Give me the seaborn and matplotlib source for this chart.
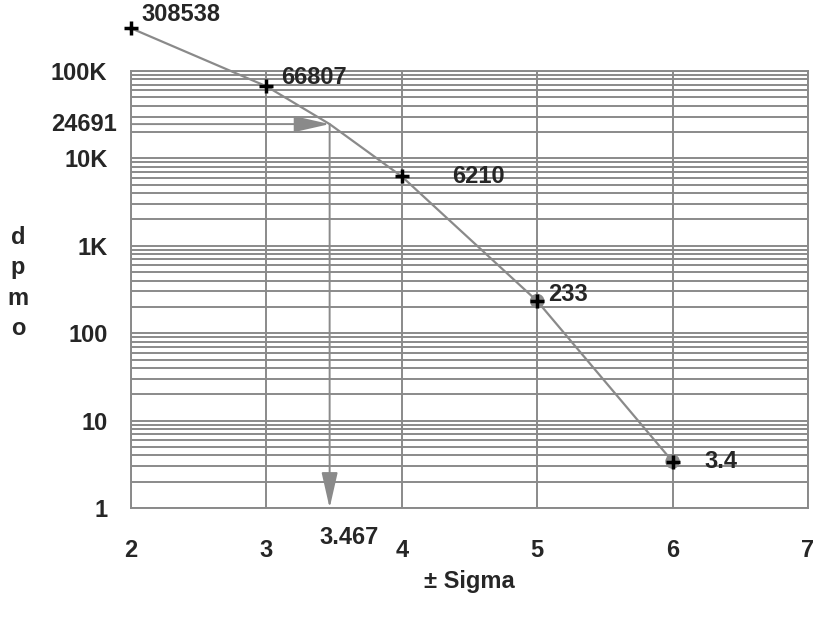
import matplotlib
matplotlib.use("Agg")
import matplotlib.pyplot as plt
from matplotlib.ticker import LogLocator, NullFormatter
import seaborn as sns

# curve: sigma level vs defects per million opportunities
sigma = [2, 3, 3.467, 4, 5, 6]
dpmo = [308538, 66807, 24691, 6210, 233, 3.4]

# points marked with a "+" and a value label
mark_sigma = [2, 3, 4, 5, 6]
mark_dpmo = [308538, 66807, 6210, 233, 3.4]
mark_labels = ["308538", "66807", "6210", "233", "3.4"]
label_offsets = [(36, 10), (34, 6), (55, 0), (22, 5), (35, 0)]

# gray dots at 5 and 6 sigma
dot_sigma = [5, 6]
dot_dpmo = [233, 3.4]

# read-off point
read_sigma = 3.467
read_dpmo = 24691

ytick_vals = [1, 10, 100, 1000, 10000, 100000]
ytick_labels = ["1", "10", "100", "1K", "10K", "100K"]
xtick_vals = [2, 3, 4, 5, 6, 7]

GRAY = "#8a8a8a"

sns.set_style("white")
plt.rcParams["font.family"] = ["Liberation Sans", "DejaVu Sans"]
plt.rcParams["font.weight"] = "bold"
plt.rcParams["font.size"] = 17

fig = plt.figure(figsize=(8.13, 6.17), dpi=100)
ax = fig.add_axes([131 / 813, 1 - 508 / 617, (808 - 131) / 813, (508 - 71) / 617])
ax.set_yscale("log")

sns.lineplot(x=sigma, y=dpmo, ax=ax, color=GRAY, linewidth=1.6, sort=False, zorder=3)
for ln in ax.lines:
    ln.set_clip_on(False)

sns.scatterplot(x=dot_sigma, y=dot_dpmo, ax=ax, color=GRAY, s=110, edgecolor="none", zorder=4)
sns.scatterplot(x=mark_sigma, y=mark_dpmo, ax=ax, marker="+", s=90,
                color="black", linewidth=2.5, zorder=5)
for coll in ax.collections:
    coll.set_clip_on(False)

for x, y, txt, off in zip(mark_sigma, mark_dpmo, mark_labels, label_offsets):
    ax.annotate(txt, xy=(x, y), xytext=off, textcoords="offset points",
                ha="center", va="center", fontweight="bold", annotation_clip=False)

# arrows reading off 24691 -> 3.467
arrow = dict(arrowstyle="-|>,head_length=2.2,head_width=0.5", color=GRAY, lw=1.4,
             shrinkA=0, shrinkB=0, mutation_scale=10)
ax.annotate("", xy=(read_sigma, read_dpmo), xytext=(2, read_dpmo), arrowprops=arrow, zorder=2)
ax.annotate("", xy=(read_sigma, 1), xytext=(read_sigma, read_dpmo), arrowprops=arrow, zorder=2)
ax.annotate(f"{read_dpmo}", xy=(0, read_dpmo), xycoords=("axes fraction", "data"),
            xytext=(-10, 0), textcoords="offset points", ha="right", va="center",
            fontweight="bold", annotation_clip=False)
ax.annotate(f"{read_sigma}", xy=(read_sigma, 1), xytext=(14, -21), textcoords="offset points",
            ha="center", va="center", fontweight="bold", annotation_clip=False)

ax.set_xlim(2, 7)
ax.set_ylim(1, 100000)
ax.set_yticks(ytick_vals, labels=ytick_labels)
ax.yaxis.set_minor_locator(LogLocator(base=10, subs=range(2, 10)))
ax.yaxis.set_minor_formatter(NullFormatter())
ax.set_xticks(xtick_vals, labels=[str(v) for v in xtick_vals])

ax.grid(which="both", axis="y", color=GRAY, linewidth=1.4)
ax.grid(which="major", axis="x", color=GRAY, linewidth=1.4)
ax.set_axisbelow(True)

ax.tick_params(axis="y", which="both", length=0, pad=17)
ax.tick_params(axis="x", which="major", length=9, width=1.4, color=GRAY, pad=13, direction="out")
xt = ax.xaxis.get_major_ticks()
xt[0].tick1line.set_visible(False)
xt[-1].tick1line.set_visible(False)
for lab in ax.get_xticklabels() + ax.get_yticklabels():
    lab.set_fontweight("bold")

for sp in ax.spines.values():
    sp.set_color(GRAY)
    sp.set_linewidth(1.4)

ax.set_xlabel("± Sigma", fontweight="bold", labelpad=6)
fig.text(18 / 813, 1 - 283 / 617, "d\np\nm\no", ha="center", va="center",
         fontweight="bold", linespacing=1.4)

fig.savefig("out.png", dpi=100)
